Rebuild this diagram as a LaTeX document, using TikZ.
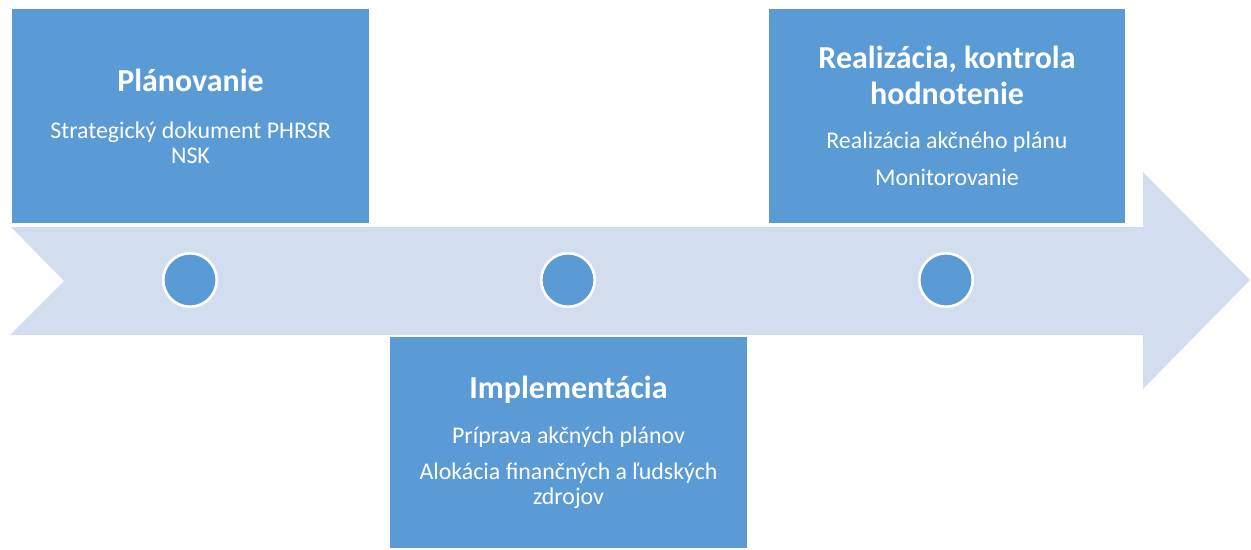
\documentclass[tikz,border=0pt]{standalone}
\usepackage{fontspec}
\setmainfont{Carlito}
\usepackage{xcolor}
\definecolor{boxblue}{HTML}{5B9BD5}
\definecolor{bandblue}{HTML}{D2DEEF}
\newcommand{\FT}{\fontsize{18.2}{21}\selectfont\bfseries}
\newcommand{\FB}{\fontsize{13.6}{14.2}\selectfont}

\begin{document}
\begin{tikzpicture}[x=0.02cm,y=-0.02cm]
\tikzstyle{etapa}=[draw=white,line width=0.8pt,fill=boxblue,text=white,font=\FB,align=center,minimum width=7.16cm,minimum height=4.32cm,inner sep=0pt]
\tikzstyle{bod}=[circle,draw=white,line width=1.5pt,fill=boxblue,minimum size=1.07cm,inner sep=0pt]
\tikzstyle{pas}=[fill=bandblue,draw=none]

\useasboundingbox (0,0) rectangle (1251,549);

\fill[pas] (11,227) -- (1143,227) -- (1143,172) -- (1250,280) -- (1143,389)
  -- (1143,335) -- (10,335) -- (64,281) -- cycle;

\node[etapa] (planovanie) at (190.5,116) {{\FT Plánovanie}\\[12.5pt]
  Strategický dokument PHRSR\\NSK};
\node[etapa,minimum height=4.26cm] (implementacia) at (568.5,442.5) {{\FT Implementácia}\\[11pt]
  Príprava akčných plánov\\[6.6pt]
  Alokácia finančných a ľudských\\zdrojov};
\node[etapa] (realizacia) at (947,116) {{\FT Realizácia, kontrola}\\[4pt]
  {\FT hodnotenie}\\[11pt]
  Realizácia akčného plánu\\[7pt]
  Monitorovanie};

\node[bod] (bod1) at (190,280) {};
\node[bod] (bod2) at (568,280) {};
\node[bod] (bod3) at (946,280) {};
\end{tikzpicture}
\end{document}
